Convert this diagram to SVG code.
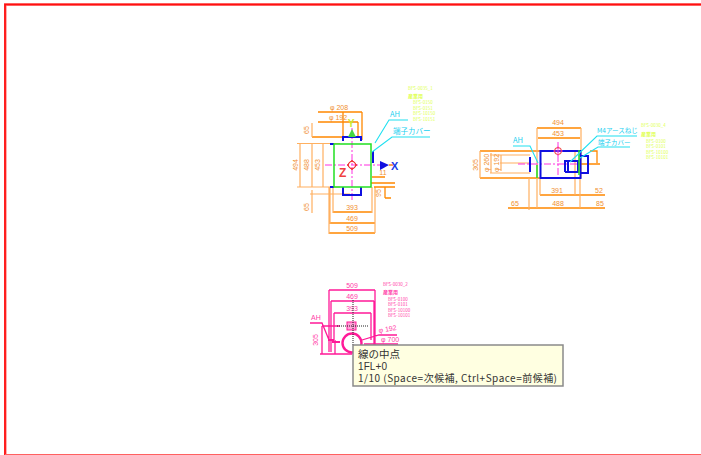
<svg xmlns="http://www.w3.org/2000/svg" width="701" height="455" viewBox="0 0 701 455">
<defs><style>
text{font-family:"Noto Sans CJK JP","Liberation Sans",sans-serif}
.d{stroke:#ff8800;stroke-width:1.3;fill:none}
.e{stroke:#ffb060;stroke-width:1.2;fill:none}
.b{stroke:#1010e0;stroke-width:2;fill:none}
.g{stroke:#22e022;stroke-width:1.5;fill:none}
.m{stroke:#ff30e0;stroke-width:1;fill:none;stroke-dasharray:7 2 2 2}
.c{stroke:#20e0f0;stroke-width:1.1;fill:none}
.p{stroke:#ff1a98;stroke-width:1.3;fill:none}
.t{fill:#f09030;font-size:7px;text-anchor:middle;font-family:"Liberation Sans",sans-serif}
.tc{fill:#20d0f0;font-size:7.5px}
.y{fill:#e0ff50;font-size:4.500px;font-family:"Liberation Sans",sans-serif}
.tp{fill:#ff40a8;font-size:4.500px;font-family:"Liberation Sans",sans-serif}
.tm{fill:#ff40a8;font-size:7px;text-anchor:middle;font-family:"Liberation Sans",sans-serif}
.j{font-size:5px;font-family:"Noto Sans CJK JP",sans-serif;font-weight:700}
.tip{fill:#333}
</style></defs>
<rect width="701" height="455" fill="#fff"/>
<g id="frame">
<path d="M701 4.500H5.500V455" fill="none" stroke="#ffb0b0" stroke-width="3"/>
<path d="M701 4.500H5V455" fill="none" stroke="#ff1010" stroke-width="1.800"/>
<path d="M5 454.500H701" fill="none" stroke="#ff6060" stroke-width="1.200"/>
</g>
<g id="view-top">
<g id="top-dimensions">
<path class="d" d="M318 112H362M318 122H358M343 112V137M358 122V137M362 112V140M312 137H345"/>
<path class="e" d="M312 123V137M297 143.500H340M297 187H340M300 143.500V187M312 143.500V187M323 143.500V187M312 190V213M310 194H350"/>
<path class="d" d="M333 212H372M330 223H375M329 233H375"/>
<path class="e" d="M333 187V213M372 187V213M330 187V224M375 187V233M329 187V234"/>
<path class="d" d="M372 177H385M371 183H395M385 187V198M385 198H391M374 187H395"/>
<text class="t" x="339" y="110">φ 208</text><text class="t" x="338" y="120">φ 192</text>
<text class="t" transform="translate(309 130) rotate(-90)">65</text>
<text class="t" transform="translate(298 165) rotate(-90)">494</text>
<text class="t" transform="translate(309 165) rotate(-90)">488</text>
<text class="t" transform="translate(320 165) rotate(-90)">453</text>
<text class="t" transform="translate(309 207) rotate(-90)">65</text>
<text class="t" x="352" y="210">393</text><text class="t" x="352" y="220.500">469</text><text class="t" x="352" y="231">509</text>
<text class="t" x="383" y="175">11</text>
<text class="t" transform="translate(381 193) rotate(-90)">95</text>
</g>
<g id="top-body">
<path class="m" d="M325 165H380M352 128V200"/>
<path class="b" d="M343 141V137H361V141M343 187V195H361V187M330 144H334M330 187H334M373 151V163"/>
<rect class="g" x="334" y="144" width="37" height="43"/>
<path d="M348 137L352 129L356 137Z" fill="#44d844"/>
<circle cx="352" cy="165" r="3.600" fill="none" stroke="#f03030"/>
<path d="M352 160L357 165L352 170L347 165Z" fill="none" stroke="#f03030" stroke-width=".8"/>
<path d="M380 161L389 165L380 170Z" fill="#1010e0"/>
<path d="M389 165H393" stroke="#f5a050" stroke-width="2"/>
<text x="351" y="127" fill="#c8e830" font-size="10" font-weight="700" text-anchor="middle" style="font-family:'Liberation Sans',sans-serif">Y</text>
<text x="391" y="170" fill="#1a3ae6" font-size="11" font-weight="700" style="font-family:'Liberation Sans',sans-serif">X</text>
<text x="339" y="177" fill="#f04040" font-size="12" font-weight="700" style="font-family:'Liberation Sans',sans-serif">Z</text>
</g>
<g id="top-labels">
<path class="c" d="M408 120H389L375 143M430 137H392L372 152"/>
<text class="tc" x="390" y="117">AH</text>
<text class="tc" x="393" y="134">端子カバー</text>
<g class="y"><text x="408" y="90">BFS-0035_1</text><text class="j" x="408" y="98">産業用</text><text x="413" y="104">BFS-0150</text><text x="413" y="109.500">BFS-0151</text><text x="413" y="115">BFS-10150</text><text x="413" y="120.500">BFS-10151</text></g>
</g>
</g>
<g id="view-side">
<g id="side-dimensions">
<path class="d" d="M537 128H581M538 138H580M480 151H541M480 178H545M540 195H605M508 208H605"/>
<path class="e" d="M490 155H530M490 173H530M500 163H530M480 151V178M491 153V173M501 155V171M537 128V208M581 128V178M580 178V208M529 178V210M540 178V195M575 150V195"/>
<path class="d" d="M580 164H600M590 151H597V163"/>
<text class="t" x="558" y="125">494</text><text class="t" x="558" y="135.500">453</text>
<text class="t" x="557" y="193">391</text><text class="t" x="599" y="193">52</text>
<text class="t" x="558" y="206">488</text><text class="t" x="515" y="206">65</text><text class="t" x="600" y="206">85</text>
<text class="t" transform="translate(478 165) rotate(-90)">305</text>
<text class="t" transform="translate(489 163) rotate(-90)">φ 260</text>
<text class="t" transform="translate(499 163) rotate(-90)">φ 192</text>
</g>
<g id="side-body">
<path class="m" d="M518 164H580M558 142V180"/>
<rect class="b" x="540.500" y="151" width="40" height="27"/>
<path class="b" d="M565 172V161H578V172H565M568 161V172M530 157V172M580 156H588V173H580"/>
<path class="g" d="M537 165V178M579 150V175"/>
<circle cx="558" cy="151" r="3.500" fill="none" stroke="#f03030"/>
<path d="M558 146V156M553 151H563" stroke="#ff40e0" stroke-width=".7"/>
</g>
<g id="side-labels">
<path class="c" d="M513 146H530L538 163M637 136H597L570 162M630 147H598L580 158"/>
<text class="tc" x="513" y="143">AH</text>
<text x="597" y="133" fill="#20d0f0" font-size="6.500">M4アースねじ</text>
<text x="598" y="145" fill="#20d0f0" font-size="6.500">端子カバー</text>
<g class="y"><text x="641" y="127">BFS-0030_4</text><text class="j" x="641" y="136">産業用</text><text x="646" y="142.500">BFS-0100</text><text x="646" y="148">BFS-0101</text><text x="646" y="153.500">BFS-10100</text><text x="646" y="159">BFS-10101</text></g>
</g>
</g>
<g id="view-front">
<g id="front-dimensions">
<path class="p" d="M329 290H375M331 301H374M334 313H371M329 290V352M375 290V345M331 301V352M374 301V345M334 313V340M371 313V340M335 340V354M322 326V354M322 326H340M320 354H352M310 323H322L329 340M362 340L379 335H397M364 344H398"/>
<text class="tm" x="352" y="288">509</text><text class="tm" x="352" y="299">469</text><text class="tm" x="352" y="311">393</text>
<text class="tm" transform="translate(318 340) rotate(-90)">305</text>
<text x="379" y="333" class="tm" style="text-anchor:start" transform="rotate(-10 379 333)">φ 192</text>
<text x="381" y="342" class="tm" style="text-anchor:start">φ 700</text>
<text x="311" y="320" class="tm" style="text-anchor:start">AH</text>
</g>
<g id="front-body">
<rect x="347" y="322" width="9" height="8" fill="#ffa0d8" stroke="#ff1a98"/>
<circle cx="352" cy="343" r="9.500" fill="none" stroke="#ff1a98" stroke-width="2.400"/>
<path d="M328 340H334M332 342H340" stroke="#ff1a98" stroke-width="2"/>
<path d="M337 326H368M353 300V345" stroke="#222" stroke-width="1" stroke-dasharray="1 1" fill="none"/>
<g class="tp"><text x="383" y="286">BFS-0030_2</text><text class="j" x="383" y="294">産業用</text><text x="388" y="301">BFS-0100</text><text x="388" y="306">BFS-0101</text><text x="388" y="311.500">BFS-10100</text><text x="388" y="317">BFS-10101</text></g>
</g>
</g>
<g id="tooltip">
<rect x="353" y="345" width="210" height="41" fill="#ffffe1" stroke="#8a8a8a" stroke-width="1.500"/>
<text class="tip" x="358" y="357.500" font-size="10.500">線の中点</text>
<text class="tip" x="358" y="369.500" font-size="10" textLength="29" lengthAdjust="spacing" style="font-family:'Liberation Sans',sans-serif">1FL+0</text>
<text class="tip" x="358" y="381.500" font-size="10" textLength="199" lengthAdjust="spacing">1/10 (Space=次候補, Ctrl+Space=前候補)</text>
</g>
</svg>
